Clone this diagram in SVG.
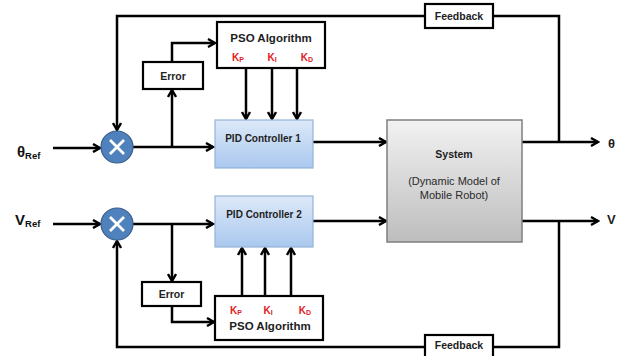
<svg xmlns="http://www.w3.org/2000/svg" width="632" height="356" viewBox="0 0 632 356">
<style>
.ln{fill:none;stroke:#000;stroke-width:2.5;stroke-linejoin:miter}
.ar{marker-end:url(#ah)}
.box{fill:#fff;stroke:#000;stroke-width:2.2}
.pid{fill:url(#gb);stroke:#95b3d7;stroke-width:1.2}
.sys{fill:url(#gg);stroke:#7f7f7f;stroke-width:1.5}
.t{font-family:"Liberation Sans",Arial,sans-serif;font-weight:bold;fill:#1e1e1e;text-anchor:middle;dominant-baseline:central}
.k{font-family:"Liberation Sans",Arial,sans-serif;font-weight:bold;fill:#e0201f;font-size:10px;text-anchor:middle;dominant-baseline:central}
.sum{fill:#4f81bd;stroke:#385d8a;stroke-width:1.2}
.x{stroke:#fff;stroke-width:2.8}
</style>
<defs>
<marker id="ah" viewBox="0 0 10 10" refX="8.5" refY="5" markerWidth="10" markerHeight="10" markerUnits="userSpaceOnUse" orient="auto">
<path d="M1.5,1 L8.5,5 L1.5,9" fill="none" stroke="#000" stroke-width="2.4"/>
</marker>
<linearGradient id="gb" x1="0" y1="0" x2="0" y2="1">
<stop offset="0" stop-color="#dde9f9"/>
<stop offset="1" stop-color="#aac8ee"/>
</linearGradient>
<linearGradient id="gg" x1="0" y1="0" x2="0" y2="1">
<stop offset="0" stop-color="#f2f2f2"/>
<stop offset="1" stop-color="#bdbdbd"/>
</linearGradient>
</defs>
<rect width="632" height="356" fill="#fff"/>

<g id="connectors">
<path class="ln ar" d="M559,142 V16 H117 V130"/>
<path class="ln ar" d="M53,148 H100"/>
<path class="ln ar" d="M133,147 H213"/>
<path class="ln ar" d="M172,147 V90"/>
<path class="ln ar" d="M172,62 V43 H215"/>
<path class="ln ar" d="M246,68 V119"/>
<path class="ln ar" d="M272,68 V119"/>
<path class="ln ar" d="M297,68 V119"/>
<path class="ln ar" d="M313,142 H386"/>
<path class="ln ar" d="M522,142 H598"/>

<path class="ln ar" d="M53,224 H100"/>
<path class="ln ar" d="M133,224 H213"/>
<path class="ln ar" d="M172,224 V281"/>
<path class="ln ar" d="M172,306 V322 H214"/>
<path class="ln ar" d="M242,296 V248"/>
<path class="ln ar" d="M265,296 V248"/>
<path class="ln ar" d="M291,296 V248"/>
<path class="ln ar" d="M313,221 H386"/>
<path class="ln ar" d="M522,221 H598"/>
<path class="ln ar" d="M559,221 V347 H117 V241"/>
</g>

<g id="feedback1">
<rect class="box" x="425" y="4" width="68" height="24"/>
<text class="t" x="459" y="16" font-size="10.5">Feedback</text>
</g>
<g id="feedback2">
<rect class="box" x="425" y="335" width="68" height="24"/>
<text class="t" x="459" y="345" font-size="10.5">Feedback</text>
</g>

<g id="theta-ref">
<text class="t" x="17" y="151" font-size="15" style="text-anchor:start;fill:#111">θ<tspan font-size="9.5" dy="4">Ref</tspan></text>
</g>
<g id="v-ref">
<text class="t" x="15" y="219" font-size="15" style="text-anchor:start;fill:#111">V<tspan font-size="9.5" dy="4">Ref</tspan></text>
</g>

<g id="sum1">
<circle class="sum" cx="117" cy="147" r="16"/>
<path class="x" d="M110,140 L124,154 M124,140 L110,154"/>
</g>
<g id="sum2">
<circle class="sum" cx="117" cy="224" r="16"/>
<path class="x" d="M110,217 L124,231 M124,217 L110,231"/>
</g>

<g id="error1">
<rect class="box" x="143" y="62" width="60" height="27"/>
<text class="t" x="173" y="75.5" font-size="10.5">Error</text>
</g>
<g id="error2">
<rect class="box" x="142" y="282" width="59" height="24"/>
<text class="t" x="171.5" y="294" font-size="10.5">Error</text>
</g>

<g id="pso1">
<rect class="box" x="217" y="22" width="108" height="46"/>
<text class="t" x="271" y="38" font-size="11.5">PSO Algorithm</text>
<text class="k" x="238" y="57">K<tspan font-size="7" dy="2">P</tspan></text>
<text class="k" x="272" y="57">K<tspan font-size="7" dy="2">I</tspan></text>
<text class="k" x="307" y="57">K<tspan font-size="7" dy="2">D</tspan></text>
</g>
<g id="pso2">
<rect class="box" x="215" y="296" width="108" height="44"/>
<text class="t" x="270" y="326" font-size="11.5">PSO Algorithm</text>
<text class="k" x="236" y="310">K<tspan font-size="7" dy="2">P</tspan></text>
<text class="k" x="268" y="310">K<tspan font-size="7" dy="2">I</tspan></text>
<text class="k" x="305" y="310">K<tspan font-size="7" dy="2">D</tspan></text>
</g>

<g id="pid1">
<rect class="pid" x="215" y="120" width="98" height="48"/>
<text class="t" x="263" y="138" font-size="10">PID Controller 1</text>
</g>
<g id="pid2">
<rect class="pid" x="215" y="196" width="98" height="51"/>
<text class="t" x="264" y="214" font-size="10">PID Controller 2</text>
</g>

<g id="system">
<rect class="sys" x="387" y="120" width="135" height="122"/>
<text class="t" x="454" y="154" font-size="10.5">System</text>
<text class="t" x="454" y="181" font-size="11" style="font-weight:normal;fill:#2a2a2a">(Dynamic Model of</text>
<text class="t" x="454" y="195" font-size="11" style="font-weight:normal;fill:#2a2a2a">Mobile Robot)</text>
</g>

<g id="theta-out">
<text class="t" x="608" y="143" font-size="13" style="text-anchor:start">θ</text>
</g>
<g id="v-out">
<text class="t" x="607" y="219" font-size="13" style="text-anchor:start">V</text>
</g>
</svg>
